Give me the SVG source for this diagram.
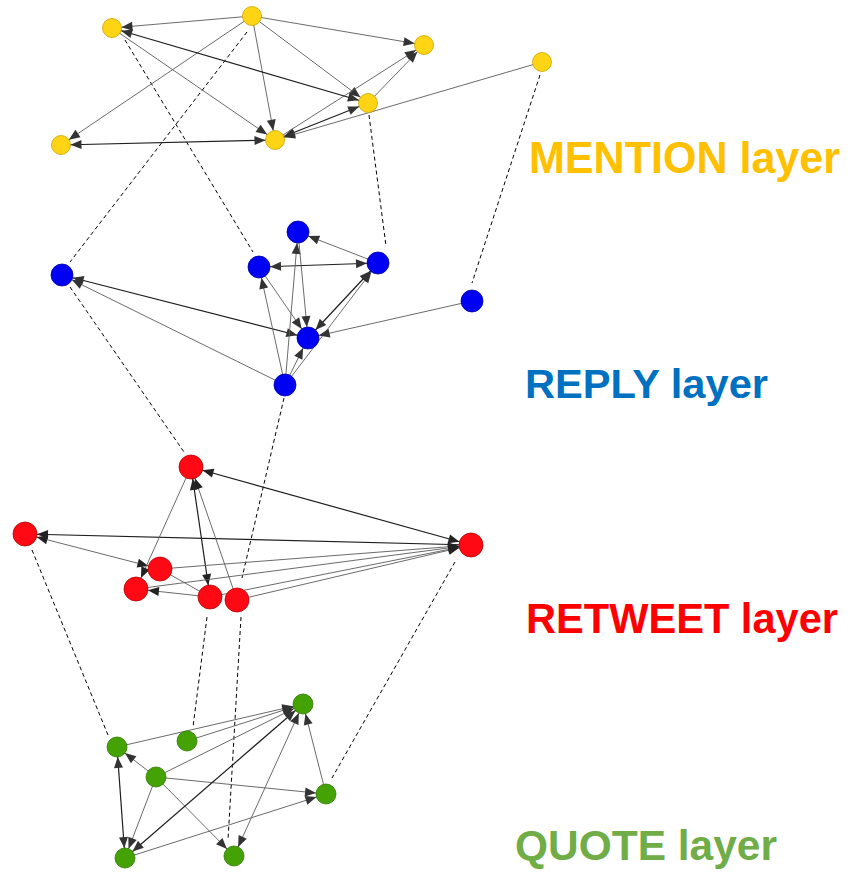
<svg xmlns="http://www.w3.org/2000/svg" width="851" height="872" viewBox="0 0 851 872">
  <style>
    .bg { fill: #ffffff; }
    .edge { stroke: #5a5a5a; stroke-width: 0.9; fill: none; }
    .edge.strong { stroke: #1e1e1e; stroke-width: 1.2; }
    .link { stroke: #000000; stroke-width: 1; stroke-dasharray: 4 3; fill: none; }
    .mention { fill: #FFD414; stroke: #C9A400; stroke-width: 0.8; }
    .reply { fill: #0000F2; stroke: #0000A8; stroke-width: 0.8; }
    .retweet { fill: #FF0A14; stroke: #B80000; stroke-width: 0.8; }
    .quote { fill: #45A204; stroke: #2F7A00; stroke-width: 0.8; }
    .label { font-family: "Liberation Sans", Arial, sans-serif; font-weight: bold; }
    .m .edge { marker-end: url(#arrM); }
    .m .edge.both { marker-start: url(#arrM); }
    .r .edge { marker-end: url(#arrR); }
    .r .edge.both { marker-start: url(#arrR); }
    .t .edge { marker-end: url(#arrT); }
    .t .edge.both { marker-start: url(#arrT); }
    .t .edge.plain { marker-end: none; }
    .q .edge { marker-end: url(#arrQ); }
    .q .edge.both { marker-start: url(#arrQ); }
  </style>
  <defs>
    <!-- arrowheads pulled back by each layer's node radius -->
    <marker id="arrM" markerUnits="userSpaceOnUse" viewBox="0 0 21 9" markerWidth="21" markerHeight="9" refX="20.5" refY="4.5" orient="auto-start-reverse" overflow="visible">
      <path d="M0,0 L11,4.5 L0,9 Z" fill="#333333"/>
    </marker>
    <marker id="arrR" markerUnits="userSpaceOnUse" viewBox="0 0 22 9" markerWidth="22" markerHeight="9" refX="22" refY="4.5" orient="auto-start-reverse" overflow="visible">
      <path d="M0,0 L11,4.5 L0,9 Z" fill="#333333"/>
    </marker>
    <marker id="arrT" markerUnits="userSpaceOnUse" viewBox="0 0 23 9" markerWidth="23" markerHeight="9" refX="23" refY="4.5" orient="auto-start-reverse" overflow="visible">
      <path d="M0,0 L11,4.5 L0,9 Z" fill="#222222"/>
    </marker>
    <marker id="arrQ" markerUnits="userSpaceOnUse" viewBox="0 0 21 9" markerWidth="21" markerHeight="9" refX="21" refY="4.5" orient="auto-start-reverse" overflow="visible">
      <path d="M0,0 L11,4.5 L0,9 Z" fill="#333333"/>
    </marker>
  </defs>
  <rect class="bg" x="0" y="0" width="851" height="872"/>

  <!-- dashed links between the layers -->
  <g id="interlayer-links">
    <line class="link" x1="125" y1="40" x2="253" y2="252"/>
    <line class="link" x1="247" y1="32" x2="70" y2="262"/>
    <line class="link" x1="369" y1="115" x2="386" y2="246"/>
    <line class="link" x1="540" y1="75" x2="472" y2="283"/>
    <line class="link" x1="70" y1="287" x2="184" y2="452"/>
    <line class="link" x1="284" y1="398" x2="242" y2="578"/>
    <line class="link" x1="32" y1="550" x2="108" y2="735"/>
    <line class="link" x1="207" y1="617" x2="193" y2="727"/>
    <line class="link" x1="241" y1="617" x2="228" y2="840"/>
    <line class="link" x1="455" y1="562" x2="332" y2="778"/>
  </g>

  <!-- directed edges inside each layer -->
  <g id="connectors">
    <g class="m">
      <line class="edge" x1="252" y1="16" x2="112" y2="28"/>
      <line class="edge" x1="252" y1="16" x2="424" y2="45"/>
      <line class="edge" x1="252" y1="16" x2="61" y2="145"/>
      <line class="edge" x1="252" y1="16" x2="275" y2="140"/>
      <line class="edge" x1="252" y1="16" x2="368" y2="103"/>
      <line class="edge strong both" x1="112" y1="28" x2="368" y2="103"/>
      <line class="edge" x1="112" y1="28" x2="275" y2="140"/>
      <line class="edge strong both" x1="61" y1="145" x2="275" y2="140"/>
      <line class="edge strong both" x1="275" y1="140" x2="368" y2="103"/>
      <line class="edge" x1="368" y1="103" x2="424" y2="45"/>
      <line class="edge" x1="275" y1="140" x2="424" y2="45"/>
      <line class="edge" x1="542" y1="62" x2="275" y2="140"/>
    </g>
    <g class="r">
      <line class="edge strong both" x1="259" y1="267" x2="378" y2="263"/>
      <line class="edge" x1="378" y1="263" x2="298" y2="232"/>
      <line class="edge strong both" x1="62" y1="275" x2="308" y2="338"/>
      <line class="edge" x1="285" y1="385" x2="62" y2="275"/>
      <line class="edge" x1="285" y1="385" x2="259" y2="267"/>
      <line class="edge" x1="285" y1="385" x2="298" y2="232"/>
      <line class="edge" x1="298" y1="232" x2="308" y2="338"/>
      <line class="edge" x1="259" y1="267" x2="308" y2="338"/>
      <line class="edge" x1="285" y1="385" x2="308" y2="338"/>
      <line class="edge strong both" x1="308" y1="338" x2="378" y2="263"/>
      <line class="edge" x1="285" y1="385" x2="378" y2="263"/>
      <line class="edge" x1="472" y1="301" x2="308" y2="338"/>
    </g>
    <g class="t">
      <line class="edge strong both" x1="191" y1="467" x2="471" y2="545"/>
      <line class="edge strong" x1="471" y1="545" x2="25" y2="534"/>
      <line class="edge both" x1="25" y1="534" x2="160" y2="569"/>
      <line class="edge" x1="191" y1="467" x2="136" y2="589"/>
      <line class="edge strong both" x1="191" y1="467" x2="210" y2="597"/>
      <line class="edge" x1="237" y1="600" x2="191" y2="467"/>
      <line class="edge" x1="210" y1="597" x2="136" y2="589"/>
      <line class="edge plain" x1="160" y1="569" x2="210" y2="597"/>
      <line class="edge" x1="160" y1="569" x2="471" y2="545"/>
      <line class="edge" x1="136" y1="589" x2="471" y2="545"/>
      <line class="edge" x1="210" y1="597" x2="471" y2="545"/>
      <line class="edge" x1="237" y1="600" x2="471" y2="545"/>
    </g>
    <g class="q">
      <line class="edge" x1="117" y1="747" x2="303" y2="704"/>
      <line class="edge" x1="187" y1="741" x2="303" y2="704"/>
      <line class="edge" x1="156" y1="777" x2="303" y2="704"/>
      <line class="edge" x1="326" y1="794" x2="303" y2="704"/>
      <line class="edge" x1="156" y1="777" x2="117" y2="747"/>
      <line class="edge" x1="156" y1="777" x2="326" y2="794"/>
      <line class="edge" x1="156" y1="777" x2="125" y2="858"/>
      <line class="edge" x1="156" y1="777" x2="234" y2="856"/>
      <line class="edge strong both" x1="117" y1="747" x2="125" y2="858"/>
      <line class="edge strong both" x1="303" y1="704" x2="125" y2="858"/>
      <line class="edge both" x1="303" y1="704" x2="234" y2="856"/>
      <line class="edge" x1="125" y1="858" x2="326" y2="794"/>
    </g>
  </g>

  <!-- MENTION layer nodes -->
  <g id="m1"><circle class="mention" cx="112" cy="28" r="9.5"/></g>
  <g id="m2"><circle class="mention" cx="252" cy="16" r="9.5"/></g>
  <g id="m3"><circle class="mention" cx="424" cy="45" r="9.5"/></g>
  <g id="m4"><circle class="mention" cx="542" cy="62" r="9.5"/></g>
  <g id="m5"><circle class="mention" cx="368" cy="103" r="9.5"/></g>
  <g id="m6"><circle class="mention" cx="275" cy="140" r="9.5"/></g>
  <g id="m7"><circle class="mention" cx="61" cy="145" r="9.5"/></g>

  <!-- REPLY layer nodes -->
  <g id="r1"><circle class="reply" cx="62" cy="275" r="11"/></g>
  <g id="r2"><circle class="reply" cx="259" cy="267" r="11"/></g>
  <g id="r3"><circle class="reply" cx="298" cy="232" r="11"/></g>
  <g id="r4"><circle class="reply" cx="378" cy="263" r="11"/></g>
  <g id="r5"><circle class="reply" cx="472" cy="301" r="11"/></g>
  <g id="r6"><circle class="reply" cx="308" cy="338" r="11"/></g>
  <g id="r7"><circle class="reply" cx="285" cy="385" r="11"/></g>

  <!-- RETWEET layer nodes -->
  <g id="t1"><circle class="retweet" cx="191" cy="467" r="12"/></g>
  <g id="t2"><circle class="retweet" cx="25" cy="534" r="12"/></g>
  <g id="t3"><circle class="retweet" cx="471" cy="545" r="12"/></g>
  <g id="t4"><circle class="retweet" cx="160" cy="569" r="12"/></g>
  <g id="t5"><circle class="retweet" cx="136" cy="589" r="12"/></g>
  <g id="t6"><circle class="retweet" cx="210" cy="597" r="12"/></g>
  <g id="t7"><circle class="retweet" cx="237" cy="600" r="12"/></g>

  <!-- QUOTE layer nodes -->
  <g id="q1"><circle class="quote" cx="303" cy="704" r="10"/></g>
  <g id="q2"><circle class="quote" cx="187" cy="741" r="10"/></g>
  <g id="q3"><circle class="quote" cx="117" cy="747" r="10"/></g>
  <g id="q4"><circle class="quote" cx="156" cy="777" r="10"/></g>
  <g id="q5"><circle class="quote" cx="326" cy="794" r="10"/></g>
  <g id="q6"><circle class="quote" cx="125" cy="858" r="10"/></g>
  <g id="q7"><circle class="quote" cx="234" cy="856" r="10"/></g>

  <!-- layer titles -->
  <g id="labels">
    <text class="label" x="529" y="173" font-size="44" fill="#FFC000" textLength="311" lengthAdjust="spacingAndGlyphs">MENTION layer</text>
    <text class="label" x="525" y="398" font-size="40" fill="#0070C0" textLength="243" lengthAdjust="spacingAndGlyphs">REPLY layer</text>
    <text class="label" x="526" y="633" font-size="43" fill="#FF0000" textLength="312" lengthAdjust="spacingAndGlyphs">RETWEET layer</text>
    <text class="label" x="515" y="860" font-size="43" fill="#70AD47" textLength="262" lengthAdjust="spacingAndGlyphs">QUOTE layer</text>
  </g>
</svg>
